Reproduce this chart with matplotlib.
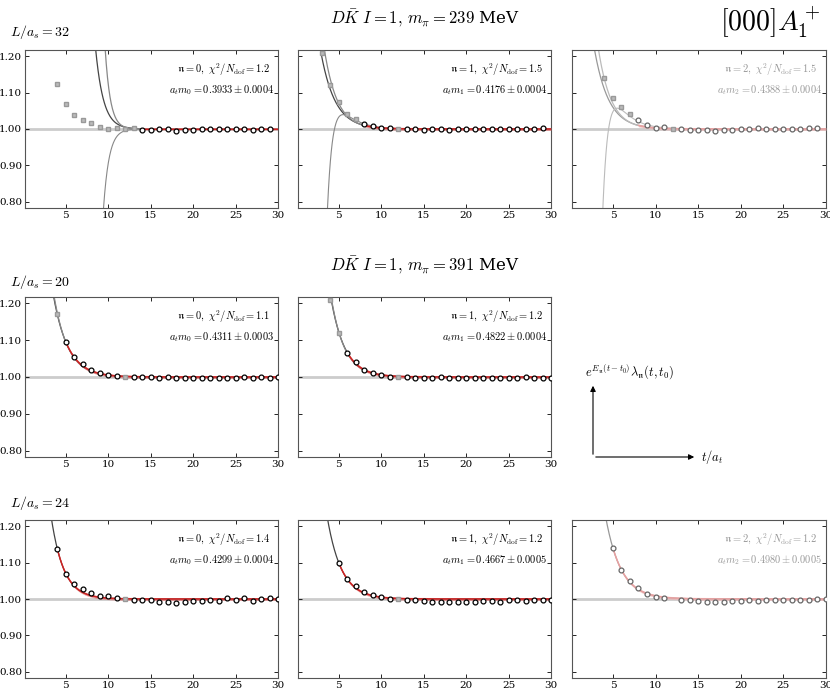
import numpy as np
import matplotlib
matplotlib.use("Agg")
import matplotlib.pyplot as plt

plt.rcParams['mathtext.fontset'] = 'cm'
plt.rcParams['font.family'] = 'serif'
plt.rcParams['font.serif'] = ['DejaVu Serif']

# ---- data ----
t_grey_a = [4, 5, 6, 7, 8, 9, 10, 11, 12, 13]
y_grey_a = [1.123, 1.068, 1.038, 1.024, 1.016, 1.005, 1.000, 1.004, 1.001, 1.003]
t_circ_a = list(range(14, 30))
y_circ_a = [0.998, 0.996, 1.000, 1.001, 0.995, 0.997, 0.997, 1.000, 1.001, 1.001, 1.000, 0.999, 1.001, 0.997, 0.999, 1.000]

t_grey_b = [3, 4, 5, 6, 7, 12]
y_grey_b = [1.21, 1.12, 1.075, 1.04, 1.027, 1.000]
t_circ_b = [8, 9, 10, 11] + list(range(13, 30))
y_circ_b = [1.015, 1.008, 1.003, 1.002, 1.000, 0.999, 0.998, 1.000, 0.999, 0.998, 0.999, 1.000, 0.999, 1.000, 1.001, 0.999, 1.000, 1.000, 1.001, 1.001, 1.003]

t_grey_c = [4, 5, 6, 7, 12]
y_grey_c = [1.14, 1.085, 1.06, 1.04, 1.000]
t_circ_c = [8, 9, 10, 11] + list(range(13, 30))
y_circ_c = [1.025, 1.010, 1.002, 1.005, 0.999, 0.998, 0.998, 0.997, 0.994, 0.997, 0.996, 1.000, 1.000, 1.002, 1.001, 1.000, 1.001, 1.001, 1.001, 1.002, 1.004]

t_grey_d = [4, 12]
y_grey_d = [1.17, 1.000]
t_circ_d = [5, 6, 7, 8, 9, 10, 11] + list(range(13, 31))
y_circ_d = [1.095, 1.055, 1.035, 1.020, 1.010, 1.006, 1.002, 0.999, 0.999, 0.999, 0.998, 0.999, 0.997, 0.998, 0.997, 0.998, 0.996, 0.997, 0.997, 0.998, 0.999, 0.998, 0.999, 0.998, 0.999]

t_grey_e = [4, 5, 12]
y_grey_e = [1.21, 1.12, 1.000]
t_circ_e = [6, 7, 8, 9, 10, 11] + list(range(13, 31))
y_circ_e = [1.065, 1.040, 1.020, 1.010, 1.005, 1.000, 0.999, 0.998, 0.998, 0.997, 0.999, 0.998, 0.997, 0.998, 0.998, 0.996, 0.998, 0.997, 0.998, 0.996, 0.999, 0.998, 0.997, 0.998]

t_grey_f = [12]
y_grey_f = [1.000]
t_circ_f = [4, 5, 6, 7, 8, 9, 10, 11] + list(range(13, 31))
y_circ_f = [1.138, 1.070, 1.040, 1.028, 1.016, 1.008, 1.008, 1.003, 0.997, 0.997, 0.997, 0.993, 0.993, 0.990, 0.992, 0.994, 0.994, 0.996, 0.994, 1.003, 0.997, 1.002, 0.995, 1.001, 1.003, 1.001]

t_grey_g = [12]
y_grey_g = [1.000]
t_circ_g = [5, 6, 7, 8, 9, 10, 11] + list(range(13, 31))
y_circ_g = [1.100, 1.055, 1.035, 1.020, 1.010, 1.005, 1.000, 0.996, 0.996, 0.994, 0.992, 0.992, 0.991, 0.992, 0.993, 0.993, 0.994, 0.995, 0.993, 0.996, 0.996, 0.994, 0.996, 0.997, 0.998]

t_circ_h = [5, 6, 7, 8, 9, 10, 11] + list(range(13, 31))
y_circ_h = [1.140, 1.080, 1.050, 1.030, 1.015, 1.005, 1.002, 0.998, 0.996, 0.995, 0.993, 0.992, 0.992, 0.994, 0.995, 0.996, 0.995, 0.997, 0.996, 0.997, 0.998, 0.997, 0.998, 0.999, 1.000]

# fit curve parameters (amplitude, decay rate in t), fit start timeslice
fits = {
    'a': dict(up=[(2270.0, 1.085), (1.1e6, 1.6)], down=[(-3.1e5, 1.5)], start=14, grey=False),
    'b': dict(up=[(1.2, 0.6), (2.0, 0.67)], bump=(1.8, 0.6, 103.0, 1.5), start=8, grey=False),
    'c': dict(up=[(1.2, 0.6), (2.0, 0.67)], bump=(2.6, 0.6, 148.0, 1.5), start=8, grey=True),
    'd': dict(up=[(1.73, 0.58), (2.0, 0.61)], start=5, grey=False),
    'e': dict(up=[(2.58, 0.61), (3.0, 0.64)], start=6, grey=False),
    'f': dict(up=[(2.1, 0.68)], start=4, grey=False),
    'g': dict(up=[(2.0, 0.60)], start=5, grey=False),
    'h': dict(up=[(2.3, 0.56)], start=5, grey=True),
}
labels = {
    'a': ('0', '1.2', '0', '0.3933', '0.0004'),
    'b': ('1', '1.5', '1', '0.4176', '0.0004'),
    'c': ('2', '1.5', '2', '0.4388', '0.0004'),
    'd': ('0', '1.1', '0', '0.4311', '0.0003'),
    'e': ('1', '1.2', '1', '0.4822', '0.0004'),
    'f': ('0', '1.4', '0', '0.4299', '0.0004'),
    'g': ('1', '1.2', '1', '0.4667', '0.0005'),
    'h': ('2', '1.2', '2', '0.4980', '0.0005'),
}
data = {
    'a': (t_grey_a, y_grey_a, t_circ_a, y_circ_a),
    'b': (t_grey_b, y_grey_b, t_circ_b, y_circ_b),
    'c': (t_grey_c, y_grey_c, t_circ_c, y_circ_c),
    'd': (t_grey_d, y_grey_d, t_circ_d, y_circ_d),
    'e': (t_grey_e, y_grey_e, t_circ_e, y_circ_e),
    'f': (t_grey_f, y_grey_f, t_circ_f, y_circ_f),
    'g': (t_grey_g, y_grey_g, t_circ_g, y_circ_g),
    'h': ([], [], t_circ_h, y_circ_h),
}

W, H = 830, 689
fig = plt.figure(figsize=(W / 100, H / 100), dpi=100)

def ax_at(x0, x1, y0, y1):
    return fig.add_axes([x0 / W, 1 - y1 / H, (x1 - x0) / W, (y1 - y0) / H])

cols = [(25, 278), (298, 551), (572, 826)]
rows = [(50, 208), (297, 457), (520, 678)]
layout = {'a': (0, 0), 'b': (0, 1), 'c': (0, 2), 'd': (1, 0), 'e': (1, 1),
          'f': (2, 0), 'g': (2, 1), 'h': (2, 2)}

tt = np.linspace(0.5, 30, 800)
for key, (r, c) in layout.items():
    ax = ax_at(*cols[c], *rows[r])
    f = fits[key]
    g = f['grey']
    dark = '#999999' if g else '#444444'
    light = '#bbbbbb' if g else '#888888'
    ax.axhline(1.0, color='#cccccc', lw=2.0, zorder=1)
    for i, (A, d) in enumerate(f['up']):
        ax.plot(tt, 1 + A * np.exp(-d * tt), color=dark if i == 0 else light, lw=0.9, zorder=2)
    for (A, d) in f.get('down', []):
        ax.plot(tt, 1 + A * np.exp(-d * tt), color=light, lw=0.8, zorder=2)
    if 'bump' in f:
        P, p, Q, q = f['bump']
        ax.plot(tt, 1 + P * np.exp(-p * tt) - Q * np.exp(-q * tt), color=light, lw=0.8, zorder=2)
    ts = np.linspace(f['start'], 30, 300)
    A, d = f['up'][0]
    base = 1 + A * np.exp(-d * ts) if key in 'bcdefgh' else np.ones_like(ts)
    if key in 'bc':
        base = 1 + A * np.exp(-d * ts)
    red = '#f0b0b0' if g else '#e06060'
    ax.fill_between(ts, base - 0.004, base + 0.004, color=red, alpha=0.6, lw=0, zorder=3)
    ax.plot(ts, base, color='#e8a0a0' if g else '#d02020', lw=1.0, zorder=3)
    tg, yg, tc, yc = data[key]
    if tg:
        ax.errorbar(tg, yg, yerr=0.004, fmt='s', ms=3, color='#aaaaaa', mec='#999999', mfc='#bbbbbb', elinewidth=0.8, capsize=0, zorder=4)
    ec = '#666666' if g else 'black'
    ax.errorbar(tc, yc, yerr=0.003, fmt='o', ms=3.5, mfc='white', mec=ec, color=ec, mew=0.9, elinewidth=0.8, capsize=0, zorder=5)
    ax.set_xlim(0.2, 30)
    ax.set_ylim(0.783, 1.217)
    ax.set_xticks([5, 10, 15, 20, 25, 30])
    ax.set_yticks([0.8, 0.9, 1.0, 1.1, 1.2])
    ax.set_yticklabels(['0.80', '0.90', '1.00', '1.10', '1.20'] if c == 0 else [])
    ax.tick_params(direction='in', top=True, right=True, labelsize=7.5, length=3, width=0.6, pad=2)
    for s in ax.spines.values():
        s.set_linewidth(0.8)
        s.set_color('#555555')
    n, chi, m, val, err = labels[key]
    tc_ = '#999999' if g else 'black'
    ax.text(0.60, 0.93, r'$\mathfrak{n}=%s,\ \chi^2/N_{\rm dof}=%s$' % (n, chi), transform=ax.transAxes, fontsize=7.5, color=tc_, va='top')
    ax.text(0.57, 0.79, r'$a_t m_%s = %s \pm %s$' % (m, val, err), transform=ax.transAxes, fontsize=7.5, color=tc_, va='top')

fig.text(425 / W, 1 - 18 / H, r'$D\bar{K}\ I=1,\, m_\pi=239$ MeV', ha='center', va='center', fontsize=12)
fig.text(425 / W, 1 - 265 / H, r'$D\bar{K}\ I=1,\, m_\pi=391$ MeV', ha='center', va='center', fontsize=12)
fig.text(770 / W, 1 - 22 / H, r'$[000]A_1^+$', ha='center', va='center', fontsize=20)
fig.text(10 / W, 1 - 32 / H, r'$L/a_s=32$', fontsize=10, va='center')
fig.text(10 / W, 1 - 282 / H, r'$L/a_s=20$', fontsize=10, va='center')
fig.text(10 / W, 1 - 503 / H, r'$L/a_s=24$', fontsize=10, va='center')

ox, oy = 593 / W, 1 - 457 / H
fig.add_artist(matplotlib.patches.FancyArrowPatch((ox, oy), (ox, 1 - 383 / H), transform=fig.transFigure, arrowstyle='-|>', mutation_scale=8, color='black', lw=0.8))
fig.add_artist(matplotlib.patches.FancyArrowPatch((ox, oy), (697 / W, oy), transform=fig.transFigure, arrowstyle='-|>', mutation_scale=8, color='black', lw=0.8))
fig.text(585 / W, 1 - 372 / H, r'$e^{E_\mathfrak{n}(t-t_0)}\lambda_\mathfrak{n}(t,t_0)$', fontsize=9, va='center')
fig.text(701 / W, oy, r'$t/a_t$', fontsize=9, va='center')

fig.savefig('out.png', dpi=100)
